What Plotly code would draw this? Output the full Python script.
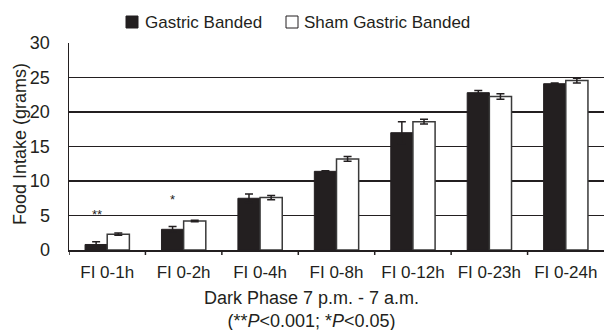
import plotly.graph_objects as go

categories = ["FI 0-1h", "FI 0-2h", "FI 0-4h", "FI 0-8h", "FI 0-12h", "FI 0-23h", "FI 0-24h"]
banded = [0.8, 3.0, 7.5, 11.4, 17.0, 22.8, 24.1]
banded_err = [0.4, 0.4, 0.6, 0.1, 1.6, 0.3, 0.1]
sham = [2.3, 4.2, 7.6, 13.2, 18.6, 22.25, 24.55]
sham_err = [0.15, 0.12, 0.3, 0.35, 0.35, 0.4, 0.35]
significance = ["**", "*", "", "", "", "", ""]
y_ticks = [0, 5, 10, 15, 20, 25, 30]

FONT = "Liberation Sans, Arial, sans-serif"
DARK = "#231f20"

fig = go.Figure()
fig.add_trace(go.Bar(
    name="Gastric Banded", x=list(range(len(categories))), y=banded,
    marker=dict(color=DARK, line=dict(color=DARK, width=1)),
    error_y=dict(type="data", array=banded_err, visible=True, color=DARK, thickness=1.5, width=4),
    showlegend=False, hoverinfo="skip",
))
fig.add_trace(go.Bar(
    name="Sham Gastric Banded", x=list(range(len(categories))), y=sham,
    marker=dict(color="white", line=dict(color="#3a3a3a", width=1.5)),
    error_y=dict(type="data", array=sham_err, visible=True, color=DARK, thickness=1.5, width=4),
    showlegend=False, hoverinfo="skip",
))

# significance markers above the Gastric Banded bars
for i, s in enumerate(significance):
    if s:
        fig.add_annotation(x=i - 0.14, y=banded[i] + banded_err[i] + 2.6, text=s,
                           showarrow=False, xref="x", yref="y", yanchor="bottom",
                           font=dict(family=FONT, size=13, color=DARK))

W, H = 604, 330
L, R, T, B = 69, 0, 43, 80
pw, ph = W - L - R, H - T - B

def px_x(x):
    return (x - L) / pw

def px_y(y):
    return (H - B - y) / ph

# legend (manual, to match the compact square+text style)
legend_items = [("Gastric Banded", DARK, 126, 143), ("Sham Gastric Banded", "white", 286, 302)]
for label, fill, sx, tx in legend_items:
    fig.add_shape(type="rect", xref="paper", yref="paper",
                  x0=px_x(sx), x1=px_x(sx + 12), y0=px_y(28), y1=px_y(16),
                  fillcolor=fill, line=dict(color=DARK, width=1))
    fig.add_annotation(x=px_x(tx), y=px_y(22), xref="paper", yref="paper", text=label,
                       showarrow=False, xanchor="left", yanchor="middle",
                       font=dict(family=FONT, size=17, color=DARK))

# axis titles
fig.add_annotation(x=px_x(311.5), y=px_y(309), xref="paper", yref="paper",
                   text="Dark Phase 7 p.m. - 7 a.m.<br>(**<i>P</i>&lt;0.001; *<i>P</i>&lt;0.05)",
                   showarrow=False, xanchor="center", yanchor="middle",
                   font=dict(family=FONT, size=18, color=DARK))
fig.add_annotation(x=px_x(20), y=px_y(144), xref="paper", yref="paper",
                   text="Food Intake (grams)", textangle=-90,
                   showarrow=False, xanchor="center", yanchor="middle",
                   font=dict(family=FONT, size=18, color=DARK))

fig.update_layout(
    width=W, height=H,
    margin=dict(l=L, r=R, t=T, b=B, pad=0),
    paper_bgcolor="white", plot_bgcolor="white",
    barmode="group", bargap=0.42, bargroupgap=0,
    hovermode=False, showlegend=False,
    font=dict(family=FONT, size=17, color=DARK),
    xaxis=dict(
        tickmode="array", tickvals=list(range(len(categories))), ticktext=categories,
        range=[-0.5, len(categories) - 0.5],
        showgrid=False, zeroline=False,
        showline=True, linecolor=DARK, linewidth=1.5,
        ticks="", tickfont=dict(size=17),
        ticklabelstandoff=6,
    ),
    yaxis=dict(
        range=[0, 30], tickvals=y_ticks,
        showgrid=True, gridcolor=DARK, gridwidth=1.3,
        zeroline=False, showline=True, linecolor=DARK, linewidth=1.5,
        ticks="", tickfont=dict(size=18), ticklabelstandoff=14,
    ),
)

# category boundary ticks on the x axis
for i in range(len(categories)):
    fig.add_shape(type="line", xref="x", yref="paper", x0=i - 0.5, x1=i - 0.5,
                  y0=0, y1=-5 / ph, line=dict(color=DARK, width=1.5))

fig.write_html("out.html", config={"displayModeBar": False, "staticPlot": True},
               post_script="document.body.style.margin='0';")
